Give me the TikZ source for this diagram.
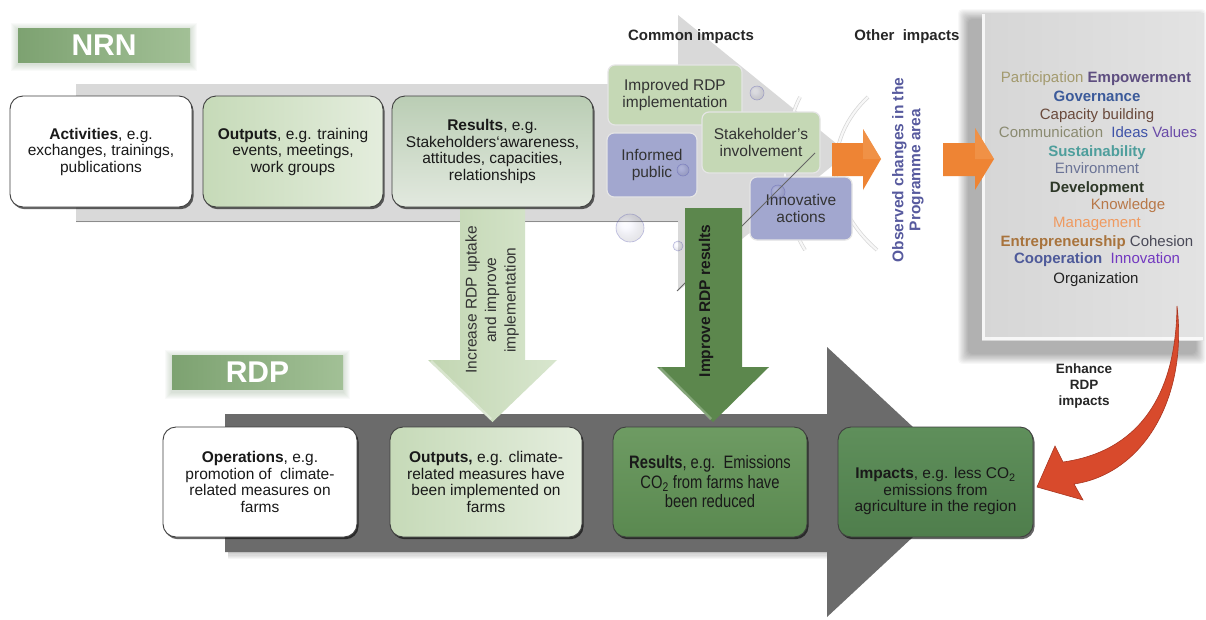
\documentclass[tikz,border=0pt]{standalone}
\usepackage{fontspec}
\setmainfont{Liberation Sans}
\newfontfamily\narrowfont[FakeStretch=0.82]{Liberation Sans}
\usetikzlibrary{shadows}

\definecolor{boxline}{HTML}{3F3F3F}
\definecolor{bandlight}{HTML}{D9D9D9}
\definecolor{banddark}{HTML}{6B6B6B}
\definecolor{labdark}{HTML}{7DA271}
\definecolor{lablight}{HTML}{A2C096}
\definecolor{palegreenA}{HTML}{C6DAB8}
\definecolor{palegreenB}{HTML}{E4EDDD}
\definecolor{sagegreenA}{HTML}{BACDB4}
\definecolor{sagegreenB}{HTML}{E2E9DF}
\definecolor{midgreenA}{HTML}{6E9B63}
\definecolor{midgreenB}{HTML}{5A8950}
\definecolor{deepgreenA}{HTML}{5F8F5B}
\definecolor{deepgreenB}{HTML}{4F7E4C}
\definecolor{cigreen}{HTML}{C5D8B5}
\definecolor{ciblue}{HTML}{A2A7CF}
\definecolor{orangeA}{HTML}{EE8434}
\definecolor{orangeB}{HTML}{F29A52}
\definecolor{observed}{HTML}{575A9E}
\definecolor{panelA}{HTML}{D6D6D6}
\definecolor{panelB}{HTML}{E3E3E3}
\definecolor{redarrow}{HTML}{D84A2C}
\definecolor{rededge}{HTML}{A93520}
\definecolor{arrowpale}{HTML}{C2D6B2}
\definecolor{arrowpaleB}{HTML}{D8E6CE}
\definecolor{arrowdark}{HTML}{5C874D}
% word cloud colours
\definecolor{wPart}{HTML}{A39A6E}
\definecolor{wEmp}{HTML}{5E4E80}
\definecolor{wGov}{HTML}{3B5A9A}
\definecolor{wCap}{HTML}{6A4A3C}
\definecolor{wComm}{HTML}{8A8A70}
\definecolor{wIdeas}{HTML}{3E52A8}
\definecolor{wVal}{HTML}{6A4BA8}
\definecolor{wSus}{HTML}{4E9E9C}
\definecolor{wEnv}{HTML}{6A7396}
\definecolor{wDev}{HTML}{2E3828}
\definecolor{wKnow}{HTML}{B87848}
\definecolor{wMan}{HTML}{EF9A60}
\definecolor{wEnt}{HTML}{A8733C}
\definecolor{wCoh}{HTML}{4A4A58}
\definecolor{wCoop}{HTML}{4E5A9A}
\definecolor{wInno}{HTML}{7238C0}
\definecolor{wOrg}{HTML}{222222}

\begin{document}
\begin{tikzpicture}[x=1pt,y=-1pt,
  every node/.style={inner sep=0pt, outer sep=0pt},
  stepbox/.style={rectangle, rounded corners=13pt, draw=boxline, line width=0.9pt,
    align=center, text=black!90, font=\fontsize{15.5}{16.5}\selectfont,
    drop shadow={shadow xshift=1.6pt, shadow yshift=-2.2pt, opacity=0.6, fill=black}},
  nrnrow/.style={stepbox, minimum height=111pt},
  rdprow/.style={stepbox, minimum height=110pt},
  cibox/.style={rectangle, rounded corners=7pt, align=center, text=black!80,
    font=\fontsize{15.5}{17}\selectfont, draw=white!80!gray, line width=1.2pt},
  rowlabel/.style={text=white, font=\fontsize{30}{30}\selectfont\bfseries,
    minimum height=34pt, left color=labdark, right color=lablight},
  title/.style={font=\fontsize{15}{15}\selectfont\bfseries, text=black!85},
  word/.style={anchor=base, font=\fontsize{15}{15}\selectfont},
  bubble/.style={ball color=white!80!blue, opacity=0.15},
  bubblerim/.style={draw=gray!60!blue, line width=0.6pt, opacity=0.35},
  arcdeco/.style={draw=black!16, line width=0.7pt, double=white!97!black, double distance=2.2pt},
]
\useasboundingbox (0,0) rectangle (1206,619);
\fill[white] (0,0) rectangle (1206,619);

% ---------- RDP band: dark grey block arrow ----------
\foreach \i in {1,...,6}
  \fill[black, opacity=0.035] (228,552) rectangle (827,552+\i*1.2);
\fill[banddark] (225,414) -- (827,414) -- (827,347) -- (972,482) -- (827,617)
  -- (827,552) -- (225,552) -- cycle;

% ---------- NRN band: light grey block arrow ----------
\fill[bandlight] (76,84) -- (678,84) -- (678,15) -- (848,153) -- (678,291)
  -- (678,222) -- (76,222) -- cycle;
\draw[black!45, line width=1.6pt] (76,221.5) -- (678,221.5);

% faint bracket arcs behind the common impacts
\draw[arcdeco] (800,97) .. controls (778,140) and (780,210) .. (805,250);
\draw[arcdeco] (868,97) .. controls (822,140) and (825,205) .. (877,250);

% ---------- row labels with a soft halo ----------
\foreach \i in {1,...,7}
  \fill[labdark!80!gray, opacity=0.045] (18-\i,28-\i+2) rectangle (190+\i,62+\i+2);
\node[rowlabel, minimum width=172pt] (nrnlab) at (104,45) {NRN};
\foreach \i in {1,...,7}
  \fill[labdark!80!gray, opacity=0.045] (172-\i,355-\i+2) rectangle (343+\i,390+\i+2);
\node[rowlabel, minimum width=171pt] (rdplab) at (257.5,372.5) {RDP};

% ---------- arrow: increase uptake ----------
\shade[left color=arrowpale, right color=arrowpaleB]
  (460,200) -- (525,200) -- (525,360) -- (557,360) -- (492.5,422) -- (428,360)
  -- (460,360) -- cycle;
\draw[white, opacity=0.35, line width=2.5pt] (431,361) -- (491,419);
\node[rotate=90, align=center, font=\fontsize{15.5}{19.5}\selectfont, text=black!80]
  (inctext) at (492,300) {Increase RDP uptake\\and improve\\implementation};

% ---------- NRN row ----------
\node[nrnrow, minimum width=182pt, fill=white] (act) at (101,151.5)
  {\textbf{Activities}, e.g.\\exchanges, trainings,\\publications};
\node[nrnrow, minimum width=180pt, left color=palegreenA, right color=palegreenB] (nout) at (293,151.5)
  {\textbf{Outputs}, e.g. training\\events, meetings,\\work groups};
\node[nrnrow, minimum width=201pt, top color=sagegreenA, bottom color=sagegreenB] (nres) at (492.5,151.5)
  {\textbf{Results}, e.g.\\Stakeholders‘awareness,\\attitudes, capacities,\\relationships};

% ---------- common impacts ----------
\node[title] (cimp) at (691,37) {Common impacts};
\node[cibox, fill=cigreen, minimum width=134pt, minimum height=60pt] (ci1) at (675,95)
  {Improved RDP\\implementation};
\node[cibox, fill=ciblue, minimum width=90pt, minimum height=64pt] (ci2) at (652,165)
  {Informed\\public};
\node[cibox, fill=cigreen, minimum width=118pt, minimum height=61pt] (ci3) at (761,142.5)
  {Stakeholder’s\\involvement};
\node[cibox, fill=ciblue, minimum width=102pt, minimum height=63pt] (ci4) at (801,208.5)
  {Innovative\\actions};

% bubbles
\foreach \bx/\by/\br in {757/93/7, 683/170/6, 630/228/14, 678/246/5, 778/192/7} {
  \shade[bubble] (\bx,\by) circle [radius=\br pt];
  \draw[bubblerim] (\bx,\by) circle [radius=\br pt];
}

% thin diagonal stroke
\coordinate (lnA) at (815,153);
\coordinate (lnB) at (677,291);
\draw[black!60, line width=0.8pt] (lnA) -- (lnB);

% ---------- arrow: improve results ----------
\fill[arrowdark] (685,208) -- (742,208) -- (742,367) -- (769,367) -- (713,422)
  -- (657,367) -- (685,367) -- cycle;
\draw[white, opacity=0.25, line width=2.5pt] (660,368) -- (711,419);
\node[rotate=90, font=\fontsize{15.5}{16}\selectfont\bfseries, text=black!90]
  (imptxt) at (706,301) {Improve RDP results};

% ---------- first orange arrow and observed changes ----------
\fill[orangeA] (832,143) -- (863,143) -- (863,129) -- (881,159) -- (863,190) -- (863,176)
  -- (832,176) -- cycle;
\fill[orangeB, opacity=0.6] (863,129) -- (881,159) -- (863,159) -- cycle;
\node[rotate=90, align=center, font=\fontsize{15.5}{17}\selectfont\bfseries, text=observed]
  (obs) at (908,170) {Observed changes in the\\Programme area};
\node[title] (oimp) at (907,37) {Other\ \ impacts};

% ---------- panel of other impacts ----------
\foreach \i in {0,...,11}
  \fill[black, opacity=0.028, rounded corners=4pt]
    (968-\i*0.9, 19-\i*0.9) rectangle (1196+\i*0.9, 354+\i*0.9);
\node[left color=panelA, right color=panelB, minimum width=222pt, minimum height=327pt]
  (panel) at (1093,176.5) {};
\draw[white, line width=2.5pt, opacity=0.8] (983.5,14) -- (983.5,338.5) -- (1203,338.5);

% second orange arrow, lying over the panel edge
\fill[orangeA] (943,143) -- (975,143) -- (975,128) -- (994,159) -- (975,190) -- (975,176)
  -- (943,176) -- cycle;
\fill[orangeB, opacity=0.6] (975,128) -- (994,159) -- (975,159) -- cycle;

\node[word] (w1) at (1096,82.5)
  {\color{wPart}Participation \textbf{\color{wEmp}Empowerment}};
\node[word] (w2) at (1097,101.5) {\textbf{\color{wGov}Governance}};
\node[word] (w3) at (1097,119.5) {\color{wCap}Capacity building};
\node[word] (w4) at (1098,137.5)
  {\color{wComm}Communication\ \ \color{wIdeas}Ideas \color{wVal}Values};
\node[word] (w5) at (1097,156.5) {\textbf{\color{wSus}Sustainability}};
\node[word] (w6) at (1097,173.5) {\color{wEnv}Environment};
\node[word] (w7) at (1097,192.5) {\textbf{\color{wDev}Development}};
\node[word] (w8) at (1128,209.5) {\color{wKnow}Knowledge};
\node[word] (w9) at (1097,227.5) {\color{wMan}Management};
\node[word] (w10) at (1097,246.5)
  {\textbf{\color{wEnt}Entrepreneurship} \color{wCoh}Cohesion};
\node[word] (w11) at (1097,263.5)
  {\textbf{\color{wCoop}Cooperation}\ \ \color{wInno}Innovation};
\node[word] (w12) at (1096,283.5) {\color{wOrg}Organization};

% ---------- RDP row ----------
\node[rdprow, minimum width=194pt, fill=white] (ops) at (260,482)
  {\textbf{Operations}, e.g.\\promotion of\ \ climate-\\related measures on\\farms};
\node[rdprow, minimum width=192pt, left color=palegreenA, right color=palegreenB] (rout) at (486,482)
  {\textbf{Outputs,} e.g. climate-\\related measures have\\been implemented on\\farms};
\node[rdprow, minimum width=194pt, top color=midgreenA, bottom color=midgreenB,
  font=\narrowfont\fontsize{18}{19.5}\selectfont] (rres) at (710,482)
  {\textbf{Results}, e.g.\ \ Emissions\\CO\textsubscript{2} from farms have\\been reduced};
\node[rdprow, minimum width=195pt, top color=deepgreenA, bottom color=deepgreenB] (imp) at (935.5,482) {};
\node[font=\fontsize{15.5}{16.5}\selectfont, align=center, text=black!90] (imptext) at (935.5,491)
  {\textbf{Impacts}, e.g. less CO\textsubscript{2}\\emissions from\\agriculture in the region};

% ---------- curved red arrow: enhance impacts ----------
\coordinate (rtail) at (1177,306);
\coordinate (rtip) at (1037,487);
\fill[redarrow, draw=rededge, line width=0.6pt]
  (rtail) .. controls (1176,400) and (1135,452) .. (1063,462)
  -- (1055,446) -- (rtip) -- (1083,500) -- (1074,484)
  .. controls (1142,474) and (1188,400) .. (rtail) -- cycle;
\node[align=center, font=\fontsize{13.5}{16}\selectfont\bfseries, text=black!85]
  (enh) at (1084,386) {Enhance\\RDP\\impacts};

\end{tikzpicture}
\end{document}
